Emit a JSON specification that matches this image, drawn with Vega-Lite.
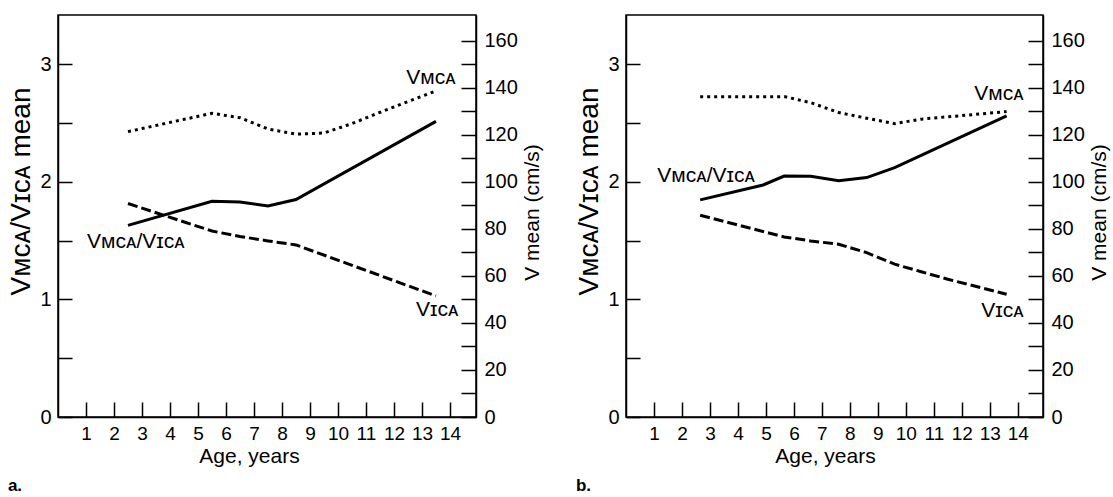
{
  "$schema": "https://vega.github.io/schema/vega-lite/v6.json",
  "padding": {"left": 7, "top": 14, "right": 5, "bottom": 5},
  "spacing": 31,
  "datasets": {
    "ratio": [
      {"panel": "a", "age": 2.5, "ratio": 1.63},
      {"panel": "a", "age": 5.5, "ratio": 1.835},
      {"panel": "a", "age": 6.5, "ratio": 1.83},
      {"panel": "a", "age": 7.5, "ratio": 1.795},
      {"panel": "a", "age": 8.5, "ratio": 1.85},
      {"panel": "a", "age": 13.5, "ratio": 2.515},
      {"panel": "b", "age": 2.65, "ratio": 1.847},
      {"panel": "b", "age": 4.9, "ratio": 1.974},
      {"panel": "b", "age": 5.65, "ratio": 2.05},
      {"panel": "b", "age": 6.6, "ratio": 2.048},
      {"panel": "b", "age": 7.6, "ratio": 2.009},
      {"panel": "b", "age": 8.6, "ratio": 2.037},
      {"panel": "b", "age": 9.6, "ratio": 2.122},
      {"panel": "b", "age": 13.6, "ratio": 2.562}
    ],
    "velocity": [
      {"panel": "a", "vessel": "VMCA", "age": 2.5, "v": 121.4},
      {"panel": "a", "vessel": "VMCA", "age": 5.5, "v": 129.2},
      {"panel": "a", "vessel": "VMCA", "age": 6.5, "v": 127.3},
      {"panel": "a", "vessel": "VMCA", "age": 7.5, "v": 122.5},
      {"panel": "a", "vessel": "VMCA", "age": 8.5, "v": 120.3},
      {"panel": "a", "vessel": "VMCA", "age": 9.5, "v": 120.8},
      {"panel": "a", "vessel": "VMCA", "age": 10.5, "v": 124.8},
      {"panel": "a", "vessel": "VMCA", "age": 11.5, "v": 129.6},
      {"panel": "a", "vessel": "VMCA", "age": 12.5, "v": 134.2},
      {"panel": "a", "vessel": "VMCA", "age": 13.5, "v": 138.7},
      {"panel": "a", "vessel": "VICA", "age": 2.5, "v": 90.8},
      {"panel": "a", "vessel": "VICA", "age": 5.5, "v": 79.1},
      {"panel": "a", "vessel": "VICA", "age": 6.5, "v": 76.8},
      {"panel": "a", "vessel": "VICA", "age": 7.5, "v": 74.9},
      {"panel": "a", "vessel": "VICA", "age": 8.5, "v": 73.2},
      {"panel": "a", "vessel": "VICA", "age": 13.5, "v": 51.5},
      {"panel": "b", "vessel": "VMCA", "age": 2.65, "v": 136.2},
      {"panel": "b", "vessel": "VMCA", "age": 5.7, "v": 136.2},
      {"panel": "b", "vessel": "VMCA", "age": 6.6, "v": 133.7},
      {"panel": "b", "vessel": "VMCA", "age": 7.6, "v": 129.5},
      {"panel": "b", "vessel": "VMCA", "age": 8.6, "v": 127.1},
      {"panel": "b", "vessel": "VMCA", "age": 9.6, "v": 124.8},
      {"panel": "b", "vessel": "VMCA", "age": 10.55, "v": 126.7},
      {"panel": "b", "vessel": "VMCA", "age": 13.6, "v": 129.9},
      {"panel": "b", "vessel": "VICA", "age": 2.65, "v": 85.8},
      {"panel": "b", "vessel": "VICA", "age": 5.65, "v": 76.6},
      {"panel": "b", "vessel": "VICA", "age": 6.6, "v": 74.9},
      {"panel": "b", "vessel": "VICA", "age": 7.6, "v": 73.5},
      {"panel": "b", "vessel": "VICA", "age": 8.6, "v": 69.9},
      {"panel": "b", "vessel": "VICA", "age": 9.6, "v": 65.0},
      {"panel": "b", "vessel": "VICA", "age": 10.55, "v": 61.8},
      {"panel": "b", "vessel": "VICA", "age": 11.5, "v": 58.6},
      {"panel": "b", "vessel": "VICA", "age": 13.6, "v": 52.2}
    ],
    "labels": [
      {"panel": "a", "label": "Vᴍᴄᴀ/Vɪᴄᴀ", "age": 1.04, "ratio": 1.437},
      {"panel": "a", "label": "Vᴍᴄᴀ", "age": 14.2, "ratio": 2.83},
      {"panel": "a", "label": "Vɪᴄᴀ", "age": 14.3, "ratio": 0.859},
      {"panel": "b", "label": "Vᴍᴄᴀ/Vɪᴄᴀ", "age": 1.12, "ratio": 2.0},
      {"panel": "b", "label": "Vᴍᴄᴀ", "age": 14.21, "ratio": 2.695},
      {"panel": "b", "label": "Vɪᴄᴀ", "age": 14.21, "ratio": 0.851}
    ]
  },
  "hconcat": [
    {
      "width": 418,
      "height": 402,
      "title": {"text": "a.", "orient": "bottom", "anchor": "start", "frame": "bounds", "fontSize": 17, "fontWeight": "bold", "offset": 12},
      "encoding": {
        "x": {"field": "age", "type": "quantitative", "scale": {"domain": [0, 14.93], "nice": false, "zero": false},
          "axis": {"title": "Age, years", "values": [1,2,3,4,5,6,7,8,9,10,11,12,13,14], "labelOverlap": false, "labelSeparation": 0, "tickSize": -15, "labelPadding": 22, "titleX": 191, "titlePadding": 2, "titleFontSize": 21}}
      },
      "layer": [
        {
          "layer": [
            {
              "data": {"name": "ratio"},
              "transform": [{"filter": "datum.panel === 'a'"}],
              "mark": {"type": "line", "color": "black", "strokeWidth": 3},
              "encoding": {
                "y": {"field": "ratio", "type": "quantitative", "scale": {"domain": [0, 3.42], "nice": false, "zero": false},
                  "axis": {"orient": "left", "title": "Vᴍᴄᴀ/Vɪᴄᴀ mean", "values": [0,0.5,1,1.5,2,2.5,3], "labelExpr": "datum.value % 1 === 0 ? format(datum.value, 'd') : ''", "labelFontSize": 20, "tickSize": -14, "labelPadding": 21, "titleFontSize": 28, "titlePadding": 4, "titleY": 176}}
              }
            },
            {
              "data": {"name": "labels"},
              "transform": [{"filter": "datum.panel === 'a' && datum.label === 'Vᴍᴄᴀ/Vɪᴄᴀ'"}],
              "mark": {"type": "text", "align": "left", "baseline": "alphabetic", "fontSize": 21, "font": "Liberation Sans, DejaVu Sans", "color": "black"},
              "encoding": {
                "y": {"field": "ratio", "type": "quantitative"},
                "text": {"field": "label"}
              }
            },
            {
              "data": {"name": "labels"},
              "transform": [{"filter": "datum.panel === 'a' && datum.label !== 'Vᴍᴄᴀ/Vɪᴄᴀ'"}],
              "mark": {"type": "text", "align": "right", "baseline": "alphabetic", "fontSize": 21, "font": "Liberation Sans, DejaVu Sans", "color": "black"},
              "encoding": {
                "y": {"field": "ratio", "type": "quantitative"},
                "text": {"field": "label"}
              }
            }
          ]
        },
        {
          "data": {"name": "velocity"},
          "transform": [{"filter": "datum.panel === 'a'"}],
          "mark": {"type": "line", "color": "black", "strokeWidth": 3},
          "encoding": {
            "y": {"field": "v", "type": "quantitative", "scale": {"domain": [0, 171], "nice": false, "zero": false},
              "axis": {"orient": "right", "title": "V mean (cm/s)", "values": [0,10,20,30,40,50,60,70,80,90,100,110,120,130,140,150,160], "labelExpr": "datum.value % 20 === 0 ? datum.label : ''", "labelFontSize": 20, "tickSize": -15, "labelPadding": 23, "titleAngle": -90, "titleBaseline": "top", "titleFontSize": 21, "titlePadding": 4, "titleY": 197}},
            "strokeDash": {"field": "vessel", "type": "nominal", "scale": {"domain": ["VMCA", "VICA"], "range": [[3, 4], [10, 4]]}, "legend": null}
          }
        }
      ],
      "resolve": {"scale": {"y": "independent"}}
    },
    {
      "width": 417,
      "height": 402,
      "title": {"text": "b.", "orient": "bottom", "anchor": "start", "frame": "bounds", "fontSize": 17, "fontWeight": "bold", "offset": 12},
      "encoding": {
        "x": {"field": "age", "type": "quantitative", "scale": {"domain": [0, 14.9], "nice": false, "zero": false},
          "axis": {"title": "Age, years", "values": [1,2,3,4,5,6,7,8,9,10,11,12,13,14], "labelOverlap": false, "labelSeparation": 0, "tickSize": -15, "labelPadding": 22, "titleX": 199, "titlePadding": 2, "titleFontSize": 21}}
      },
      "layer": [
        {
          "layer": [
            {
              "data": {"name": "ratio"},
              "transform": [{"filter": "datum.panel === 'b'"}],
              "mark": {"type": "line", "color": "black", "strokeWidth": 3},
              "encoding": {
                "y": {"field": "ratio", "type": "quantitative", "scale": {"domain": [0, 3.42], "nice": false, "zero": false},
                  "axis": {"orient": "left", "title": "Vᴍᴄᴀ/Vɪᴄᴀ mean", "values": [0,0.5,1,1.5,2,2.5,3], "labelExpr": "datum.value % 1 === 0 ? format(datum.value, 'd') : ''", "labelFontSize": 20, "tickSize": -14, "labelPadding": 21, "titleFontSize": 28, "titlePadding": 4, "titleY": 176}}
              }
            },
            {
              "data": {"name": "labels"},
              "transform": [{"filter": "datum.panel === 'b' && datum.label === 'Vᴍᴄᴀ/Vɪᴄᴀ'"}],
              "mark": {"type": "text", "align": "left", "baseline": "alphabetic", "fontSize": 21, "font": "Liberation Sans, DejaVu Sans", "color": "black"},
              "encoding": {
                "y": {"field": "ratio", "type": "quantitative"},
                "text": {"field": "label"}
              }
            },
            {
              "data": {"name": "labels"},
              "transform": [{"filter": "datum.panel === 'b' && datum.label !== 'Vᴍᴄᴀ/Vɪᴄᴀ'"}],
              "mark": {"type": "text", "align": "right", "baseline": "alphabetic", "fontSize": 21, "font": "Liberation Sans, DejaVu Sans", "color": "black"},
              "encoding": {
                "y": {"field": "ratio", "type": "quantitative"},
                "text": {"field": "label"}
              }
            }
          ]
        },
        {
          "data": {"name": "velocity"},
          "transform": [{"filter": "datum.panel === 'b'"}],
          "mark": {"type": "line", "color": "black", "strokeWidth": 3},
          "encoding": {
            "y": {"field": "v", "type": "quantitative", "scale": {"domain": [0, 171], "nice": false, "zero": false},
              "axis": {"orient": "right", "title": "V mean (cm/s)", "values": [0,10,20,30,40,50,60,70,80,90,100,110,120,130,140,150,160], "labelExpr": "datum.value % 20 === 0 ? datum.label : ''", "labelFontSize": 20, "tickSize": -15, "labelPadding": 23, "titleAngle": -90, "titleBaseline": "top", "titleFontSize": 21, "titlePadding": 4, "titleY": 197}},
            "strokeDash": {"field": "vessel", "type": "nominal", "scale": {"domain": ["VMCA", "VICA"], "range": [[3, 4], [10, 4]]}, "legend": null}
          }
        }
      ],
      "resolve": {"scale": {"y": "independent"}}
    }
  ],
  "config": {
    "font": "Liberation Sans, DejaVu Sans",
    "background": "white",
    "view": {"stroke": "black", "strokeWidth": 1.5},
    "axis": {"grid": false, "domainColor": "black", "domainWidth": 1.5, "tickColor": "black", "tickWidth": 1.5, "labelColor": "black", "titleColor": "black", "labelFontSize": 19, "titleFontSize": 19, "titleFontWeight": "normal", "labelFont": "Liberation Sans", "titleFont": "Liberation Sans, DejaVu Sans"},
    "axisX": {"labelOverlap": false, "labelSeparation": 0},
    "title": {"color": "black", "font": "Liberation Sans"}
  }
}
